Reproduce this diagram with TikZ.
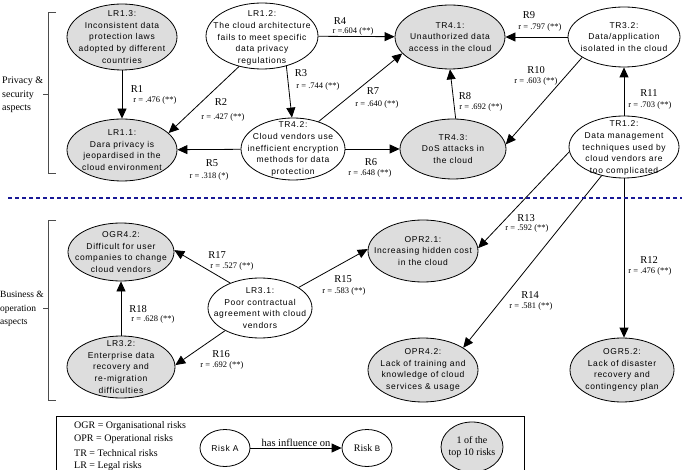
\documentclass[tikz,border=0pt]{standalone}
\usepackage{fontspec}
\setmainfont{Liberation Serif}
\newfontfamily\nodefont{Liberation Sans}[LetterSpace=8]
\usetikzlibrary{shapes.geometric,arrows.meta}
\definecolor{riskgray}{RGB}{221,221,221}
\definecolor{sepblue}{RGB}{25,25,150}
\tikzset{
  risk/.style={ellipse, draw, line width=0.8pt, inner sep=0pt},
  toprisk/.style={risk, fill=riskgray},
  ntext/.style={align=center, inner sep=0pt, font=\nodefont\fontsize{8.5}{11.7}\selectfont},
  arr/.style={line width=0.8pt, -{Triangle[length=10pt,width=9pt]}},
  rlab/.style={inner sep=0pt, font=\fontsize{10.5}{12}\selectfont},
  rval/.style={inner sep=0pt, font=\fontsize{8.5}{10}\selectfont},
  brk/.style={line width=0.9pt, black!70},
  side/.style={anchor=west, align=left, inner sep=0pt, font=\fontsize{10}{13.3}\selectfont},
  legtext/.style={anchor=west, inner sep=0pt, font=\fontsize{10}{12}\selectfont},
  sepline/.style={line width=1.3pt, sepblue, dash pattern=on 4pt off 3pt},
}
\begin{document}
\begin{tikzpicture}[x=1pt,y=-1pt]
\useasboundingbox (0,0) rectangle (682,470);

% ---- ellipses
\node[toprisk, minimum width=110pt, minimum height=66pt] (LR13) at (122,37) {};
\node[ntext] (LR13t) at (LR13) {LR1.3:\\Inconsistent data\\protection laws\\adopted by different\\countries};
\node[toprisk, minimum width=110pt, minimum height=62pt] (LR11) at (122,150) {};
\node[ntext] (LR11t) at (LR11) {LR1.1:\\Dara privacy is\\jeopardised in the\\cloud environment};
\node[risk, minimum width=112pt, minimum height=66pt] (LR12) at (262,36) {};
\node[ntext] (LR12t) at (262,38) {LR1.2:\\The cloud architecture\\fails to meet specific\\data privacy\\regulations};
\node[toprisk, minimum width=110pt, minimum height=64pt] (TR41) at (450,37) {};
\node[ntext] (TR41t) at (TR41) {TR4.1:\\Unauthorized data\\access in the cloud};
\node[risk, minimum width=112pt, minimum height=60pt] (TR32) at (624,37) {};
\node[ntext] (TR32t) at (TR32) {TR3.2:\\Data/application\\isolated in the cloud};
\node[risk, minimum width=104pt, minimum height=62pt] (TR42) at (293,149) {};
\node[ntext] (TR42t) at (TR42) {TR4.2:\\Cloud vendors use\\inefficient encryption\\methods for data\\protection};
\node[toprisk, minimum width=106pt, minimum height=60pt] (TR43) at (453,149) {};
\node[ntext] (TR43t) at (TR43) {TR4.3:\\DoS attacks in\\the cloud};
\node[risk, minimum width=110pt, minimum height=62pt] (TR12) at (624,147) {};
\node[ntext] (TR12t) at (624,148) {TR1.2:\\Data management\\techniques used by\\cloud vendors are\\too complicated};

\node[toprisk, minimum width=106pt, minimum height=58pt] (OGR42) at (121,252) {};
\node[ntext] (OGR42t) at (OGR42) {OGR4.2:\\Difficult for user\\companies to change\\cloud vendors};
\node[toprisk, minimum width=108pt, minimum height=62pt] (LR32) at (121,367) {};
\node[ntext] (LR32t) at (LR32) {LR3.2:\\Enterprise data\\recovery and\\re-migration\\difficulties};
\node[risk, minimum width=104pt, minimum height=60pt] (LR31) at (260,308) {};
\node[ntext] (LR31t) at (LR31) {LR3.1:\\Poor contractual\\agreement with cloud\\vendors};
\node[toprisk, minimum width=110pt, minimum height=62pt] (OPR21) at (423,251) {};
\node[ntext] (OPR21t) at (OPR21) {OPR2.1:\\Increasing hidden cost\\in the cloud};
\node[toprisk, minimum width=110pt, minimum height=64pt] (OPR42) at (423,370) {};
\node[ntext] (OPR42t) at (OPR42) {OPR4.2:\\Lack of training and\\knowledge of cloud\\services \& usage};
\node[toprisk, minimum width=104pt, minimum height=64pt] (OGR52) at (622,370) {};
\node[ntext] (OGR52t) at (OGR52) {OGR5.2:\\Lack of disaster\\recovery and\\contingency plan};

% ---- connectors
\draw[arr] (LR13) -- (LR11);
\draw[arr] (LR12.233) -- (LR11.20);
\draw[arr] (LR12.-51) -- (TR42.92);
\draw[arr] (LR12) -- (TR41);
\draw[arr] (TR42) -- (LR11);
\draw[arr] (TR42) -- (TR43);
\draw[arr] (TR42.47) -- (TR41.199);
\draw[arr] (TR43.85) -- (TR41.-90);
\draw[arr] (TR32) -- (TR41);
\draw[arr] (TR32.206) -- (TR43.5);
\draw[arr] (TR12) -- (TR32);
\draw[arr] (TR12.south) -- (TR12.south |- OGR52.north);
\draw[arr] (TR12.185) -- (OPR21.3);
\draw[arr] (TR12.232) -- (OPR42.29);
\draw[arr] (LR31.28) -- (OPR21.178);
\draw[arr] (LR31.213) -- (LR32.2);
\draw[arr] (LR31.140) -- (OGR42.2);
\draw[arr] (LR32) -- (OGR42);

% ---- labels
\node[rlab] (R1) at (137,89) {R1};    \node[rval] (r1) at (155,100) {r = .476 (**)};
\node[rlab] (R2) at (221,102) {R2};   \node[rval] (r2) at (223,117) {r = .427 (**)};
\node[rlab] (R3) at (301,73) {R3};    \node[rval] (r3) at (318,86) {r = .744 (**)};
\node[rlab] (R4) at (340,21) {R4};    \node[rval] (r4) at (353,31) {r =.604 (**)};
\node[rlab] (R5) at (212,163) {R5};   \node[rval] (r5) at (209,176) {r = .318 (*)};
\node[rlab] (R6) at (371,162) {R6};   \node[rval] (r6) at (370,173) {r = .648 (**)};
\node[rlab] (R7) at (373,91) {R7};    \node[rval] (r7) at (377,104) {r = .640 (**)};
\node[rlab] (R8) at (465,96) {R8};    \node[rval] (r8) at (481,107) {r = .692 (**)};
\node[rlab] (R9) at (529,15) {R9};    \node[rval] (r9) at (540,27) {r = .797 (**)};
\node[rlab] (R10) at (536,70) {R10};  \node[rval] (r10) at (536,81) {r = .603 (**)};
\node[rlab] (R11) at (649,93) {R11};  \node[rval] (r11) at (650,105) {r = .703 (**)};
\node[rlab] (R12) at (649,260) {R12}; \node[rval] (r12) at (650,271) {r = .476 (**)};
\node[rlab] (R13) at (526,218) {R13}; \node[rval] (r13) at (527,228) {r = .592 (**)};
\node[rlab] (R14) at (530,295) {R14}; \node[rval] (r14) at (531,306) {r = .581 (**)};
\node[rlab] (R15) at (343,279) {R15}; \node[rval] (r15) at (344,291) {r = .583 (**)};
\node[rlab] (R16) at (221,354) {R16}; \node[rval] (r16) at (222,365) {r = .692 (**)};
\node[rlab] (R17) at (217,255) {R17}; \node[rval] (r17) at (232,266) {r = .527 (**)};
\node[rlab] (R18) at (138,309) {R18}; \node[rval] (r18) at (153,319) {r = .628 (**)};

% ---- brackets and side texts
\draw[brk] (56,12) -- (48,12) -- (48,173) -- (56,173);
\draw[brk] (48,94) -- (43,94);
\node[side] (privacy) at (2,95) {Privacy \&\\security\\aspects};
\draw[brk] (56,220) -- (48,220) -- (48,400) -- (56,400);
\draw[brk] (48,308) -- (43,308);
\node[side, font=\fontsize{9.5}{13.3}\selectfont] (business) at (0,309) {Business \&\\operation\\aspects};

% ---- separator
\draw[sepline] (8,198) -- (682,198);

% ---- legend
\draw[line width=0.6pt] (56,416) rectangle (524,478);
\node[legtext] (lg1) at (74,426) {OGR = Organisational risks};
\node[legtext] (lg2) at (74,439) {OPR = Operational risks};
\node[legtext] (lg3) at (74,453) {TR = Technical risks};
\node[legtext] (lg4) at (74,466) {LR = Legal risks};
\node[risk, minimum width=50pt, minimum height=37pt] (RA) at (225,448) {};
\node[ntext] (RAt) at (RA) {Risk A};
\node[risk, minimum width=50pt, minimum height=37pt] (RB) at (367,448) {};
\node[inner sep=0pt, font=\fontsize{10}{12}\selectfont] (RBt) at (RB) {Risk {\nodefont\fontsize{8}{10}\selectfont B}};
\draw[arr] (RA) -- node[above, inner sep=0.8pt, font=\fontsize{10.5}{12}\selectfont] (hio) {has influence on} (RB);
\node[toprisk, minimum width=62pt, minimum height=50pt] (top10) at (472,447) {};
\node[align=center, inner sep=0pt, font=\fontsize{10}{12}\selectfont] (top10t) at (top10) {1 of the\\top 10 risks};
\end{tikzpicture}
\end{document}
